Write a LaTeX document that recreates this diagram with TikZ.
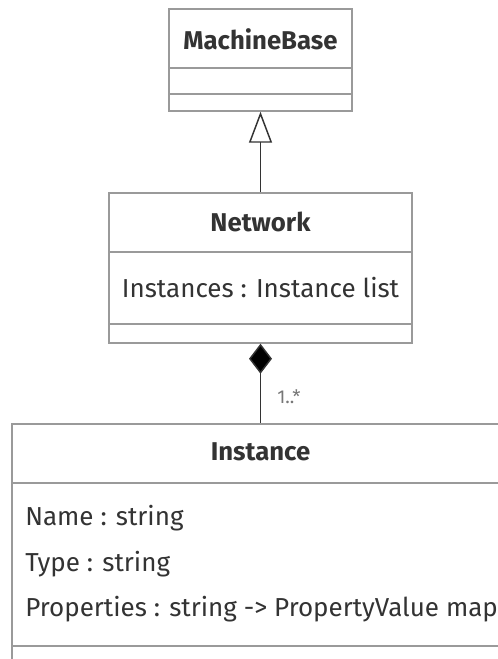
\documentclass[tikz,border=0pt]{standalone}
\usepackage{fontspec}
\setmainfont{Fira Sans}
\usetikzlibrary{arrows.meta}
\definecolor{boxline}{HTML}{9A9A9A}
\definecolor{txt}{HTML}{333333}
\definecolor{conn}{HTML}{333333}
\definecolor{mult}{HTML}{777777}
\begin{document}
\begin{tikzpicture}[x=0.75pt,y=-0.75pt,
  umlbox/.style={draw=boxline,line width=1.1pt,fill=white,rectangle,inner sep=0pt},
  divider/.style={draw=boxline,line width=1.1pt},
  title/.style={text=txt,font=\fontsize{19.3}{22}\selectfont\bfseries,inner sep=0pt},
  attr/.style={text=txt,font=\fontsize{19.5}{22}\selectfont,inner sep=0pt,anchor=west},
  conn/.style={draw=conn,line width=1.1pt},
  mult/.style={text=mult,font=\fontsize{14}{16}\selectfont,inner sep=0pt,anchor=west}]
\useasboundingbox (0,0) rectangle (498,659);
\clip (0,0) rectangle (498,659);

% MachineBase
\node[umlbox,minimum width={183*0.75pt},minimum height={102*0.75pt}] (mb) at (260.5,60) {};
\draw[divider] (169,68) -- (352,68);
\draw[divider] (169,94) -- (352,94);
\node[title] (mbname) at (260.5,39) {MachineBase};

% Network
\node[umlbox,minimum width={303*0.75pt},minimum height={150*0.75pt}] (net) at (260.5,268) {};
\draw[divider] (109,252) -- (412,252);
\draw[divider] (109,324) -- (412,324);
\node[title] (netname) at (260.5,222) {Network};
\node[text=txt,font=\fontsize{19.5}{22}\selectfont,inner sep=0pt] (netattr) at (260.5,288) {Instances : Instance list};

% Instance
\node[umlbox,minimum width={497*0.75pt},minimum height={290*0.75pt}] (inst) at (260.5,569) {};
\draw[divider] (12,483) -- (509,483);
\draw[divider] (12,646) -- (509,646);
\node[title] (instname) at (260.5,452) {Instance};
\node[attr] (a1) at (25,518) {Name : string};
\node[attr] (a2) at (25,564) {Type : string};
\node[attr] (a3) at (25,609) {Properties : string -> PropertyValue map};

% Generalisation: Network -> MachineBase
\draw[conn,{Triangle[open,fill=white,width={23*0.75pt},length={31*0.75pt}]}-] (mb.south) -- (net.north);

% Composition: Network <>-- Instance
\draw[conn,{Diamond[fill=black,width={23*0.75pt},length={30*0.75pt}]}-] (net.south) -- (inst.north);
\node[mult] (m1) at (277,397) {1..*};
\end{tikzpicture}
\end{document}
